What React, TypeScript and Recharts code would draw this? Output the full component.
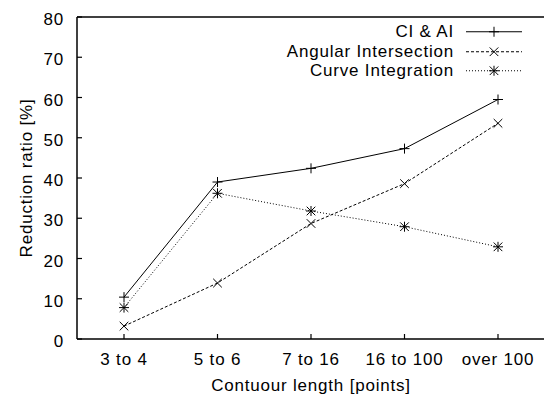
import { LineChart, Line, XAxis, YAxis, Legend, Label } from 'recharts'

const categories = ['3 to 4', '5 to 6', '7 to 16', '16 to 100', 'over 100']
const ciAi = [10.4, 39.0, 42.4, 47.3, 59.5]
const angular = [3.2, 13.9, 28.7, 38.6, 53.6]
const curve = [7.8, 36.2, 31.8, 27.9, 22.9]
const yTicks = [0, 10, 20, 30, 40, 50, 60, 70, 80]

const FONT = '"Liberation Sans", Arial, Helvetica, sans-serif'
const INK = '#000'

type Shape = 'plus' | 'cross' | 'star'

const SERIES: { key: string; name: string; dash?: string; shape: Shape }[] = [
  { key: 'ciAi', name: 'CI & AI', shape: 'plus' },
  { key: 'angular', name: 'Angular Intersection', dash: '3 2', shape: 'cross' },
  { key: 'curve', name: 'Curve Integration', dash: '1 2', shape: 'star' },
]

const rows = categories.map((name, i) => ({
  name,
  ciAi: ciAi[i],
  angular: angular[i],
  curve: curve[i],
}))

function Marker({ cx, cy, shape }: { cx: number; cy: number; shape: Shape }) {
  const r = 5
  const d = 4.3
  const plus = `M${cx - r},${cy}H${cx + r}M${cx},${cy - r}V${cy + r}`
  const cross = `M${cx - d},${cy - d}L${cx + d},${cy + d}M${cx - d},${cy + d}L${cx + d},${cy - d}`
  const path = shape === 'plus' ? plus : shape === 'cross' ? cross : plus + cross
  return <path d={path} stroke={INK} strokeWidth={1} fill="none" />
}

const renderLegend = () => (
  <div style={{ fontFamily: FONT, fontSize: 17, letterSpacing: '0.8px', color: INK }}>
    {SERIES.map((s) => (
      <div
        key={s.key}
        style={{ display: 'flex', justifyContent: 'flex-end', alignItems: 'center', height: 19.5 }}
      >
        <span style={{ marginRight: 6, lineHeight: '19.5px' }}>{s.name}</span>
        <svg width={68} height={19.5} style={{ display: 'block' }}>
          <line x1={6} x2={62} y1={9.75} y2={9.75} stroke={INK} strokeWidth={1} strokeDasharray={s.dash} />
          <Marker cx={34} cy={9.75} shape={s.shape} />
        </svg>
      </div>
    ))}
  </div>
)

const YTitle = (props: any) => {
  const { viewBox } = props
  const cy = viewBox.y + viewBox.height / 2
  return (
    <text
      transform={`translate(32, ${cy}) rotate(-90)`}
      textAnchor="middle"
      fill={INK}
      fontSize={17}
    >
      Reduction ratio [%]
    </text>
  )
}

const axisLine = { stroke: INK, strokeWidth: 1.5 }
const tickLine = { stroke: INK, strokeWidth: 1.2 }
const tickText = { fill: INK, fontSize: 17 }
const xPad = { left: 47, right: 47 }

export default function App() {
  return (
    <div style={{ position: 'absolute', left: 0, top: 0, width: 544, height: 398, overflow: 'hidden', background: '#fff' }}>
      <LineChart
        width={550}
        height={398}
        data={rows}
        margin={{ top: 16, right: 4, bottom: 0, left: 0 }}
        style={{ fontFamily: FONT, letterSpacing: '0.8px' }}
      >
        <XAxis
          dataKey="name"
          height={59}
          padding={xPad}
          axisLine={axisLine}
          tickLine={tickLine}
          tickSize={-5}
          tickMargin={19}
          tick={tickText}
          interval={0}
        >
          <Label value="Contuour length [points]" position="insideBottom" offset={7} fill={INK} fontSize={17} />
        </XAxis>
        {/* mirrored border + inward ticks on top */}
        <XAxis
          xAxisId="top"
          dataKey="name"
          orientation="top"
          height={1}
          padding={xPad}
          axisLine={axisLine}
          tickLine={tickLine}
          tickSize={-5}
          tick={false}
          interval={0}
        />
        <YAxis
          width={77}
          domain={[0, 80]}
          ticks={yTicks}
          axisLine={axisLine}
          tickLine={tickLine}
          tickSize={-5}
          tickMargin={18}
          tick={{ ...tickText, dy: 2 }}
          interval={0}
        >
          <Label content={YTitle} />
        </YAxis>
        {/* mirrored border + inward ticks on the right */}
        <YAxis
          yAxisId="right"
          orientation="right"
          width={1}
          domain={[0, 80]}
          ticks={yTicks}
          axisLine={axisLine}
          tickLine={tickLine}
          tickSize={-5}
          tick={false}
          interval={0}
        />
        <Legend
          layout="vertical"
          align="center"
          verticalAlign="middle"
          content={renderLegend}
          wrapperStyle={{ top: 22, left: 200, width: 328 }}
        />
        {SERIES.map((s) => (
          <Line
            key={s.key}
            dataKey={s.key}
            name={s.name}
            stroke={INK}
            strokeWidth={1}
            strokeDasharray={s.dash}
            type="linear"
            isAnimationActive={false}
            dot={(p: any) => <Marker key={`${s.key}-${p.index}`} cx={p.cx} cy={p.cy} shape={s.shape} />}
            activeDot={false}
          />
        ))}
      </LineChart>
    </div>
  )
}
